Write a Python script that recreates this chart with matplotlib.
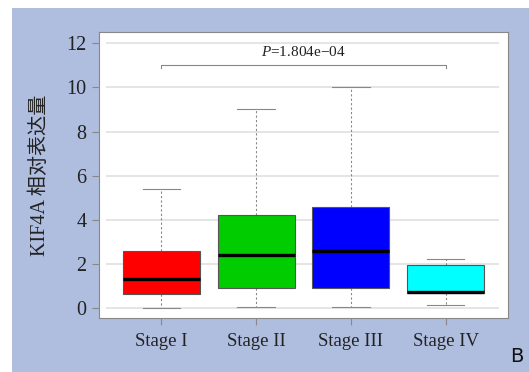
import matplotlib
matplotlib.use('Agg')
import matplotlib.pyplot as plt
from matplotlib.patches import Rectangle

plt.rcParams['font.family'] = ['Liberation Serif', 'Noto Sans CJK SC']
plt.rcParams['mathtext.fontset'] = 'custom'
plt.rcParams['mathtext.rm'] = 'Liberation Serif'
plt.rcParams['mathtext.it'] = 'Liberation Serif:italic'

# box stats
stages = ['Stage I', 'Stage II', 'Stage III', 'Stage IV']
whis_lo = [0.03, 0.07, 0.04, 0.15]
q1 = [0.63, 0.92, 0.91, 0.68]
medians = [1.31, 2.41, 2.60, 0.74]
q3 = [2.61, 4.23, 4.60, 1.95]
whis_hi = [5.39, 9.01, 10.0, 2.22]
colors = ['#ff0000', '#00cc00', '#0000ff', '#00ffff']
p_text = '$\\it{P}$=1.804e\u221204'
yticks = [0, 2, 4, 6, 8, 10, 12]

fig = plt.figure(figsize=(5.29, 3.72), dpi=100)
fig.patch.set_facecolor('white')
fig.patches.append(Rectangle((12/529, 0), 1, (372-8)/372, transform=fig.transFigure,
                             facecolor='#afbddf', edgecolor='none', zorder=-10))

ax = fig.add_axes([99/529, 1-318/372, (508-99)/529, (318-32)/372])
ax.set_facecolor('white')

stats = []
for i in range(len(stages)):
    stats.append({'whislo': whis_lo[i], 'q1': q1[i], 'med': medians[i],
                  'q3': q3[i], 'whishi': whis_hi[i], 'fliers': [], 'label': stages[i]})

bp = ax.bxp(stats, positions=range(1, 5), widths=0.81, patch_artist=True,
            showfliers=False,
            boxprops=dict(edgecolor='#555555', linewidth=0.8),
            medianprops=dict(color='black', linewidth=2.4),
            whiskerprops=dict(color='#888888', linewidth=0.8, linestyle=(0, (2, 2))),
            capprops=dict(color='#888888', linewidth=0.8), capwidths=0.4)
for patch, c in zip(bp['boxes'], colors):
    patch.set_facecolor(c)
    patch.set_zorder(3)
for m in bp['medians']:
    m.set_zorder(4)

ax.hlines(yticks, 0.41, 4.57, color='#e0e0e0', linewidth=1.2, zorder=0)

# significance bracket
ax.plot([1, 1, 4, 4], [10.88, 11.0, 11.0, 10.88], color='#888888', linewidth=0.8)
ax.text(2.5, 11.3, p_text, ha='center', va='bottom', fontsize=11, color='#222222')

ax.set_xlim(0.34, 4.66)
ax.set_ylim(-0.44, 12.51)
ax.set_yticks(yticks)
ax.set_yticklabels([str(v) for v in yticks])
ax.set_xticks(range(1, 5))
ax.set_xticklabels(stages)
ax.tick_params(axis='both', colors='#888888', labelcolor='#222222', labelsize=13.5,
               length=5, width=0.8, direction='out')
ax.tick_params(axis='x', pad=6)
ax.tick_params(axis='y', pad=4, labelsize=14.5)
for s in ax.spines.values():
    s.set_color('#888888')
    s.set_linewidth(0.8)

ax.set_ylabel('KIF4A 相对表达量', fontsize=14.5, color='#222222', labelpad=12)

fig.text(510/529, 1-356/372, 'B', fontsize=14, family='DejaVu Sans', ha='left', va='center',
         color='#111111')

fig.savefig('out.png', dpi=100)
